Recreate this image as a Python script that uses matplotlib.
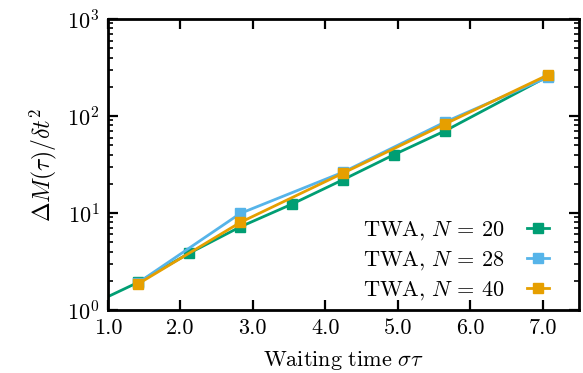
import matplotlib
matplotlib.use("Agg")
import matplotlib.pyplot as plt
from matplotlib.ticker import LogLocator, NullFormatter

plt.rcParams['font.family'] = 'serif'
plt.rcParams['font.serif'] = ['cmr10']
plt.rcParams['mathtext.fontset'] = 'cm'
plt.rcParams['axes.formatter.use_mathtext'] = True

# waiting times (multiples of sqrt(2)/2)
t_20 = [0.707, 1.414, 2.121, 2.828, 3.536, 4.243, 4.950, 5.657, 7.071]
m_20 = [1.08, 1.92, 3.84, 7.2, 12.3, 22.0, 40.0, 70.5, 256]

t_28 = [1.414, 2.828, 4.243, 5.657, 7.071]
m_28 = [1.9, 9.9, 26.3, 87, 251]

t_40 = [1.414, 2.828, 4.243, 5.657, 7.071]
m_40 = [1.85, 8.0, 25.7, 83, 265]

xticks = [1.0, 2.0, 3.0, 4.0, 5.0, 6.0, 7.0]
xtick_labels = ["1.0", "2.0", "3.0", "4.0", "5.0", "6.0", "7.0"]

series = [
    (t_20, m_20, '#009E73', r'$\mathrm{TWA},\,N\, =\, 20$'),
    (t_28, m_28, '#56B4E9', r'$\mathrm{TWA},\,N\, =\, 28$'),
    (t_40, m_40, '#E69F00', r'$\mathrm{TWA},\,N\, =\, 40$'),
]

fig = plt.figure(figsize=(5.83, 3.73), dpi=100)
ax = fig.add_axes([0.185, 0.169, 0.808, 0.78])

for t, m, c, lab in series:
    ax.plot(t, m, color=c, lw=2.0, marker='s', ms=6.5, label=lab)

ax.set_yscale('log')
ax.set_xlim(1.0, 7.5)
ax.set_ylim(1, 1000)
ax.set_xticks(xticks)
ax.set_xticklabels(xtick_labels)
ax.yaxis.set_major_locator(LogLocator(base=10, numticks=10))
ax.yaxis.set_minor_locator(LogLocator(base=10, subs=range(2, 10), numticks=20))
ax.yaxis.set_minor_formatter(NullFormatter())

ax.tick_params(which='both', direction='in', top=True, right=True)
ax.tick_params(which='major', length=7, width=1.6, labelsize=16, pad=6)
ax.tick_params(which='minor', length=3.5, width=1.2)
for s in ax.spines.values():
    s.set_linewidth(2.0)

ax.set_xlabel(r'$\mathrm{Waiting\ time}\ \sigma\tau$', fontsize=16, labelpad=8)
ax.set_ylabel(r'$\Delta M(\tau)/\delta t^2$', fontsize=17, labelpad=6)

ax.legend(loc='lower right', frameon=False, markerfirst=False, fontsize=16,
          handlelength=1.0, handletextpad=1.0, labelspacing=0.32,
          borderaxespad=0.0, bbox_to_anchor=(0.955, -0.004))

fig.savefig('out.png', dpi=100)
